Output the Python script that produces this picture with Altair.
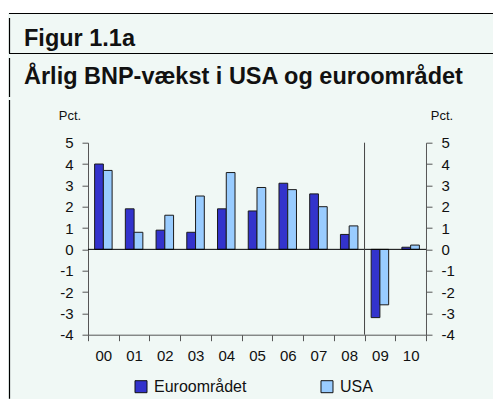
import altair as alt
import pandas as pd

# ---- data ----
years = ["00", "01", "02", "03", "04", "05", "06", "07", "08", "09", "10"]
euro = [4.0, 1.9, 0.9, 0.8, 1.9, 1.8, 3.1, 2.6, 0.7, -3.2, 0.1]
usa = [3.7, 0.8, 1.6, 2.5, 3.6, 2.9, 2.8, 2.0, 1.1, -2.6, 0.2]
series = ["Euroområdet", "USA"]
colors = ["#3333cc", "#99ccff"]
y_ticks = [-4, -3, -2, -1, 0, 1, 2, 3, 4, 5]
title1 = "Figur 1.1a"
title2 = "Årlig BNP-vækst i USA og euroområdet"
unit = "Pct."

rows = []
for i, yr in enumerate(years):
    rows.append({"year": yr, "series": series[0], "value": euro[i]})
    rows.append({"year": yr, "series": series[1], "value": usa[i]})
df = pd.DataFrame(rows)
one = pd.DataFrame({"a": [0]})

# ---- layout ----
W, H = 338, 192
PL, PT, PR, PB = 80, 134.7, 67, 64
BG = "#f0f8f5"
FONT = "Liberation Sans"
AX = "#555555"
LBL = "datum.value < 0 ? '-' + abs(datum.value) : '' + datum.value"

yscale = alt.Scale(domain=[-4, 5], nice=False, zero=False)
xscale = alt.Scale(domain=years, paddingInner=0, paddingOuter=0)


def yaxis(orient):
    return alt.Axis(title=None, orient=orient, values=y_ticks, tickSize=6,
                    labelPadding=9, labelFontSize=15, labelFont=FONT, labelExpr=LBL,
                    labelColor="#111", domainColor=AX, tickColor=AX, grid=False,
                    labelOverlap=False)


def xaxis():
    return alt.Axis(title=None, labelAngle=0, tickBand="extent", tickSize=6,
                    labelPadding=8, labelFontSize=15, labelFont=FONT,
                    labelColor="#111", domainColor=AX, tickColor=AX, grid=False)


bars = alt.Chart(df).mark_bar(stroke="#1a1a1a", strokeWidth=1).encode(
    x=alt.X("year:N", scale=xscale, sort=years, axis=xaxis()),
    xOffset=alt.XOffset("series:N", sort=series,
                        scale=alt.Scale(domain=series, paddingOuter=0.755, paddingInner=0)),
    y=alt.Y("value:Q", scale=yscale, axis=yaxis("left")),
    color=alt.Color("series:N", sort=series,
                    scale=alt.Scale(domain=series, range=colors),
                    legend=alt.Legend(title=None, orient="none", legendX=45, legendY=236,
                                      direction="horizontal", symbolType="square",
                                      symbolSize=144, symbolStrokeColor="#111",
                                      symbolStrokeWidth=1, labelFontSize=16, labelFont=FONT,
                                      labelColor="#111", labelOffset=5, columnPadding=72,
                                      padding=0, symbolOffset=0)),
)

zero = alt.Chart(one).mark_rule(color="#000", strokeWidth=1).encode(
    y=alt.YDatum(0, axis=yaxis("left"))
)
divider = alt.Chart(one).mark_rule(color="#444", strokeWidth=1).encode(
    x=alt.XDatum("09", type="nominal", bandPosition=0, axis=xaxis())
)
main = alt.layer(bars, zero, divider)

right = alt.Chart(df).mark_point(opacity=0).encode(
    y=alt.Y("value:Q", scale=yscale, axis=yaxis("right"))
)

# ---- frame decorations (pixel positions relative to plot origin) ----
def px(x):
    return x - 88


def py(y):
    return y - 142.7


white_top = alt.Chart(one).mark_rect(color="white").encode(
    x=alt.value(-PL), x2=alt.value(W + PR), y=alt.value(-PT), y2=alt.value(py(13))
)
hl1 = alt.Chart(one).mark_rule(color="#000", strokeWidth=1.2).encode(
    x=alt.value(px(9)), x2=alt.value(W + PR), y=alt.value(py(13.5))
)
hl2 = alt.Chart(one).mark_rule(color="#000", strokeWidth=1.2).encode(
    x=alt.value(px(9)), x2=alt.value(W + PR), y=alt.value(py(53.5))
)
vl1 = alt.Chart(one).mark_rule(color="#000", strokeWidth=1.2).encode(
    x=alt.value(px(9.5)), y=alt.value(py(18)), y2=alt.value(py(53))
)
vl2 = alt.Chart(one).mark_rule(color="#000", strokeWidth=1.2).encode(
    x=alt.value(px(9.5)), y=alt.value(py(58)), y2=alt.value(py(97))
)
vl3 = alt.Chart(one).mark_rule(color="#000", strokeWidth=1.2).encode(
    x=alt.value(px(9.5)), y=alt.value(py(100)), y2=alt.value(H + PB)
)

t1 = alt.Chart(one).mark_text(font=FONT, fontSize=23.5, fontWeight="bold", align="left",
                              baseline="alphabetic", color="#111").encode(
    x=alt.value(px(24)), y=alt.value(py(46)), text=alt.value(title1))
t2 = alt.Chart(one).mark_text(font=FONT, fontSize=23.5, fontWeight="bold", align="left",
                              baseline="alphabetic", color="#111").encode(
    x=alt.value(px(24)), y=alt.value(py(84)), text=alt.value(title2))
u1 = alt.Chart(one).mark_text(font=FONT, fontSize=13, align="center",
                              baseline="alphabetic", color="#111").encode(
    x=alt.value(px(70)), y=alt.value(py(120)), text=alt.value(unit))
u2 = alt.Chart(one).mark_text(font=FONT, fontSize=13, align="center",
                              baseline="alphabetic", color="#111").encode(
    x=alt.value(px(442)), y=alt.value(py(120)), text=alt.value(unit))

chart = alt.layer(
    white_top, hl1, hl2, vl1, vl2, vl3, t1, t2, u1, u2, main, right
).resolve_scale(y="independent").properties(
    width=W, height=H,
    autosize=alt.AutoSizeParams(type="none"),
    padding={"left": PL, "top": PT, "right": PR, "bottom": PB},
    background=BG,
).configure_view(stroke=None)

chart.save("out.html", embed_options={"renderer": "svg", "actions": False})
